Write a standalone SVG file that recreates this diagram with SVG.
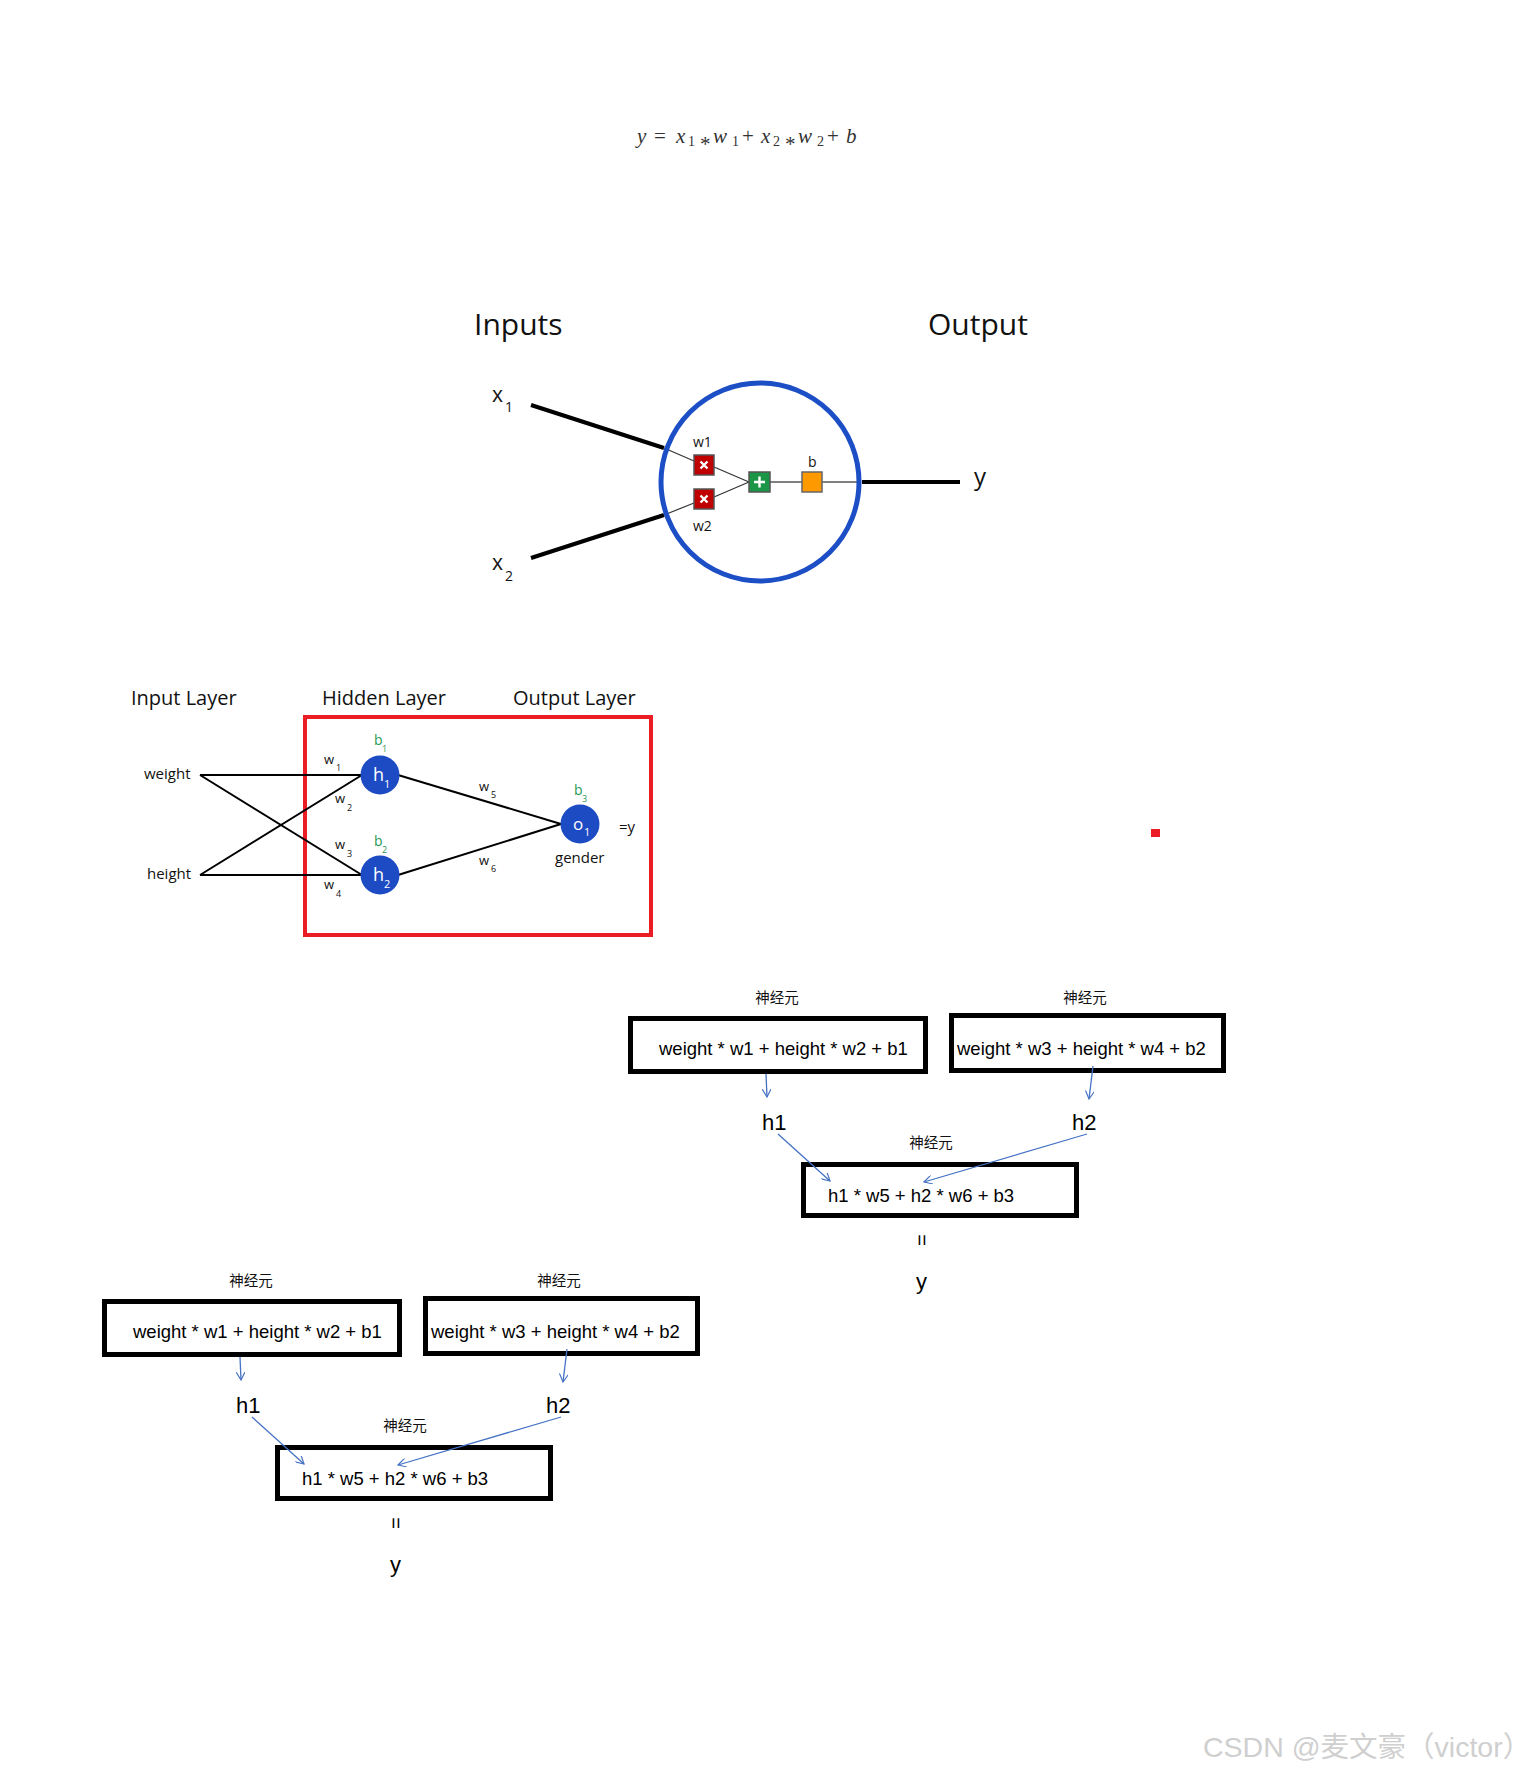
<svg xmlns="http://www.w3.org/2000/svg" width="1536" height="1773" viewBox="0 0 1536 1773">
<style>
.eq{font-family:"Liberation Serif",serif;font-size:21px;fill:#333}
.eqi{font-style:italic}
.eqs{font-size:14px}
.ast{font-size:21px}
.ui{font-family:"Open Sans","Noto Sans",sans-serif;fill:#111}
.big{font-size:30px}
.lay{font-size:20px}
.sm{font-size:15px}
.wl{font-size:13px}
.ws{font-size:9px}
.bl{font-size:14px;fill:#1f9a55}
.bs{font-size:9px;fill:#1f9a55}
.wt{fill:#fff}
.ar{font-family:"Liberation Sans",Arial,sans-serif;fill:#000}
.ft{font-size:18.5px}
.hh{font-size:22px}
.cjk{font-family:"Noto Sans CJK SC",sans-serif;font-size:14.5px;fill:#111;text-anchor:middle}
.box{fill:none;stroke:#000;stroke-width:5}
.arr{stroke:#4472c4;stroke-width:1.3;fill:none;marker-end:url(#chev)}
.thk{stroke:#000;stroke-width:4;fill:none}
.thn{stroke:#333;stroke-width:1.2;fill:none}
.gry{stroke:#808080;stroke-width:2;fill:none}
.net{stroke:#000;stroke-width:2;fill:none}
.node{fill:#1c4bc4}
</style>
<defs>
<marker id="chev" viewBox="0 0 10 10" refX="9" refY="5" markerWidth="9" markerHeight="9" markerUnits="userSpaceOnUse" orient="auto">
<path d="M0,0 L9,5 L0,10" fill="none" stroke="#4472c4" stroke-width="1.3"/>
</marker>
</defs>
<rect width="1536" height="1773" fill="#fff"/>

<g id="equation">
<text class="eq" y="143"><tspan x="637" class="eqi">y</tspan><tspan x="654">=</tspan><tspan x="676" class="eqi">x</tspan><tspan x="688" y="146" class="eqs">1</tspan><tspan x="700" y="151" class="ast">*</tspan><tspan x="713" y="143" class="eqi">w</tspan><tspan x="732" y="146" class="eqs">1</tspan><tspan x="742" y="143">+</tspan><tspan x="761" class="eqi">x</tspan><tspan x="773" y="146" class="eqs">2</tspan><tspan x="785" y="151" class="ast">*</tspan><tspan x="798" y="143" class="eqi">w</tspan><tspan x="817" y="146" class="eqs">2</tspan><tspan x="827" y="143">+</tspan><tspan x="846" class="eqi">b</tspan></text>
</g>

<g id="perceptron">
<text class="ui big" x="474" y="335">Inputs</text>
<text class="ui big" x="928" y="335">Output</text>
<text class="ui" x="492" y="402" font-size="21">x</text><text class="ui" x="505" y="412" font-size="14">1</text>
<text class="ui" x="492" y="570" font-size="21">x</text><text class="ui" x="505" y="581" font-size="14">2</text>
<g id="p-connectors">
<line class="thk" x1="531" y1="405" x2="664" y2="448"/>
<line class="thk" x1="531" y1="558" x2="664" y2="515"/>
<line class="thn" x1="664" y1="448" x2="694" y2="461"/>
<line class="thn" x1="664" y1="515" x2="694" y2="503"/>
<line class="thn" x1="714" y1="467" x2="749" y2="482"/>
<line class="thn" x1="714" y1="497" x2="749" y2="482"/>
<line class="gry" x1="770" y1="482" x2="802" y2="482"/>
<line class="gry" x1="822" y1="482" x2="858" y2="482"/>
<line class="thk" x1="862" y1="482" x2="960" y2="482"/>
</g>
<g id="neuron-circle"><circle cx="760" cy="482" r="99" fill="none" stroke="#1c4ec6" stroke-width="5"/></g>
<g id="mul1"><rect x="694" y="455" width="20" height="20" fill="#c00000" stroke="#555" stroke-width="1.5"/>
<path d="M700.5,461.5 L707.5,468.5 M707.5,461.5 L700.5,468.5" stroke="#fff" stroke-width="2.4"/></g>
<g id="mul2"><rect x="694" y="489" width="20" height="20" fill="#c00000" stroke="#555" stroke-width="1.5"/>
<path d="M700.5,495.5 L707.5,502.5 M707.5,495.5 L700.5,502.5" stroke="#fff" stroke-width="2.4"/></g>
<g id="sum"><rect x="749" y="472" width="21" height="20" fill="#1a9646" stroke="#555" stroke-width="1.5"/>
<path d="M759.5,476.5 L759.5,487.5 M754,482 L765,482" stroke="#fff" stroke-width="2.4"/></g>
<g id="bias"><rect x="802" y="472" width="20" height="20" fill="#ff9900" stroke="#666" stroke-width="1.5"/></g>
<text class="ui" x="693" y="447" font-size="14">w1</text>
<text class="ui" x="693" y="531" font-size="14">w2</text>
<text class="ui" x="808" y="467" font-size="14">b</text>
<text class="ui" x="974" y="485" font-size="24">y</text>
</g>

<g id="network">
<text class="ui lay" x="131" y="705">Input Layer</text>
<text class="ui lay" x="322" y="705">Hidden Layer</text>
<text class="ui lay" x="513" y="705">Output Layer</text>
<rect x="305" y="717" width="346" height="218" fill="none" stroke="#ec1c24" stroke-width="4"/>
<g id="n-connectors">
<line class="net" x1="200" y1="775" x2="362" y2="775"/>
<line class="net" x1="200" y1="775" x2="362" y2="875"/>
<line class="net" x1="200" y1="875" x2="362" y2="775"/>
<line class="net" x1="200" y1="875" x2="362" y2="875"/>
<line class="net" x1="398" y1="775" x2="561" y2="824"/>
<line class="net" x1="398" y1="875" x2="561" y2="824"/>
</g>
<g id="in-weight"><text class="ui sm" x="144" y="779" font-size="15.5">weight</text></g>
<g id="in-height"><text class="ui sm" x="147" y="879" font-size="15.5">height</text></g>
<g id="h1"><circle class="node" cx="380" cy="775" r="19.5"/>
<text class="ui wt" x="373" y="781" font-size="18">h</text><text class="ui wt" x="384" y="788" font-size="11">1</text></g>
<g id="h2"><circle class="node" cx="380" cy="875" r="19.5"/>
<text class="ui wt" x="373" y="881" font-size="18">h</text><text class="ui wt" x="384" y="888" font-size="11">2</text></g>
<g id="o1"><circle class="node" cx="580" cy="824" r="19.5"/>
<text class="ui wt" x="573" y="830" font-size="17">o</text><text class="ui wt" x="584" y="836" font-size="11">1</text></g>
<text class="ui sm" x="555" y="863">gender</text>
<text class="ui sm" x="619" y="832">=y</text>
<text class="ui wl" x="324" y="764">w</text><text class="ui ws" x="336" y="771">1</text>
<text class="ui wl" x="335" y="803">w</text><text class="ui ws" x="347" y="811">2</text>
<text class="ui wl" x="335" y="849">w</text><text class="ui ws" x="347" y="857">3</text>
<text class="ui wl" x="324" y="889">w</text><text class="ui ws" x="336" y="897">4</text>
<text class="ui wl" x="479" y="791">w</text><text class="ui ws" x="491" y="798">5</text>
<text class="ui wl" x="479" y="865">w</text><text class="ui ws" x="491" y="872">6</text>
<text class="ui bl" x="374" y="745">b</text><text class="ui bs" x="382" y="752">1</text>
<text class="ui bl" x="374" y="846">b</text><text class="ui bs" x="382" y="853">2</text>
<text class="ui bl" x="574" y="795">b</text><text class="ui bs" x="582" y="802">3</text>
</g>

<g id="dot"><rect x="1151" y="829" width="9" height="8" fill="#ec1c24"/></g>

<g id="calc-a">
<g id="a-box1"><text class="cjk" x="777" y="1003">神经元</text><rect class="box" x="630.5" y="1018.5" width="295" height="53"/>
<text class="ar ft" x="659" y="1055">weight * w1 + height * w2 + b1</text></g>
<g id="a-box2"><text class="cjk" x="1085" y="1003">神经元</text><rect class="box" x="951.5" y="1015.5" width="272" height="55"/>
<text class="ar ft" x="957" y="1055">weight * w3 + height * w4 + b2</text></g>
<g id="a-h1"><text class="ar hh" x="762" y="1130">h1</text></g>
<g id="a-h2"><text class="ar hh" x="1072" y="1130">h2</text></g>
<g id="a-box3"><text class="cjk" x="931" y="1148">神经元</text><rect class="box" x="803.5" y="1164.5" width="273" height="51"/>
<text class="ar ft" x="828" y="1202">h1 * w5 + h2 * w6 + b3</text></g>
<g id="a-eq" transform="translate(922,1240) rotate(90)"><text class="ar" x="0" y="7" font-size="20" text-anchor="middle">=</text></g>
<g id="a-y"><text class="ar hh" x="916" y="1289">y</text></g>
<g id="a-connectors">
<line class="arr" x1="766" y1="1074" x2="767" y2="1097"/>
<line class="arr" x1="1093" y1="1066" x2="1089" y2="1099"/>
<line class="arr" x1="778" y1="1134" x2="830" y2="1181"/>
<line class="arr" x1="1087" y1="1134" x2="924" y2="1182"/>
</g>
</g>

<g id="calc-b" transform="translate(-526,283)">
<g id="b-box1"><text class="cjk" x="777" y="1003">神经元</text><rect class="box" x="630.5" y="1018.5" width="295" height="53"/>
<text class="ar ft" x="659" y="1055">weight * w1 + height * w2 + b1</text></g>
<g id="b-box2"><text class="cjk" x="1085" y="1003">神经元</text><rect class="box" x="951.5" y="1015.5" width="272" height="55"/>
<text class="ar ft" x="957" y="1055">weight * w3 + height * w4 + b2</text></g>
<g id="b-h1"><text class="ar hh" x="762" y="1130">h1</text></g>
<g id="b-h2"><text class="ar hh" x="1072" y="1130">h2</text></g>
<g id="b-box3"><text class="cjk" x="931" y="1148">神经元</text><rect class="box" x="803.5" y="1164.5" width="273" height="51"/>
<text class="ar ft" x="828" y="1202">h1 * w5 + h2 * w6 + b3</text></g>
<g id="b-eq" transform="translate(922,1240) rotate(90)"><text class="ar" x="0" y="7" font-size="20" text-anchor="middle">=</text></g>
<g id="b-y"><text class="ar hh" x="916" y="1289">y</text></g>
<g id="b-connectors">
<line class="arr" x1="766" y1="1074" x2="767" y2="1097"/>
<line class="arr" x1="1093" y1="1066" x2="1089" y2="1099"/>
<line class="arr" x1="778" y1="1134" x2="830" y2="1181"/>
<line class="arr" x1="1087" y1="1134" x2="924" y2="1182"/>
</g>
</g>

<g id="watermark"><text x="1203" y="1757" font-family="'Liberation Sans','Noto Sans CJK SC',sans-serif" font-size="28.5" fill="#cfcfcf">CSDN @麦文豪（victor）</text></g>
</svg>
